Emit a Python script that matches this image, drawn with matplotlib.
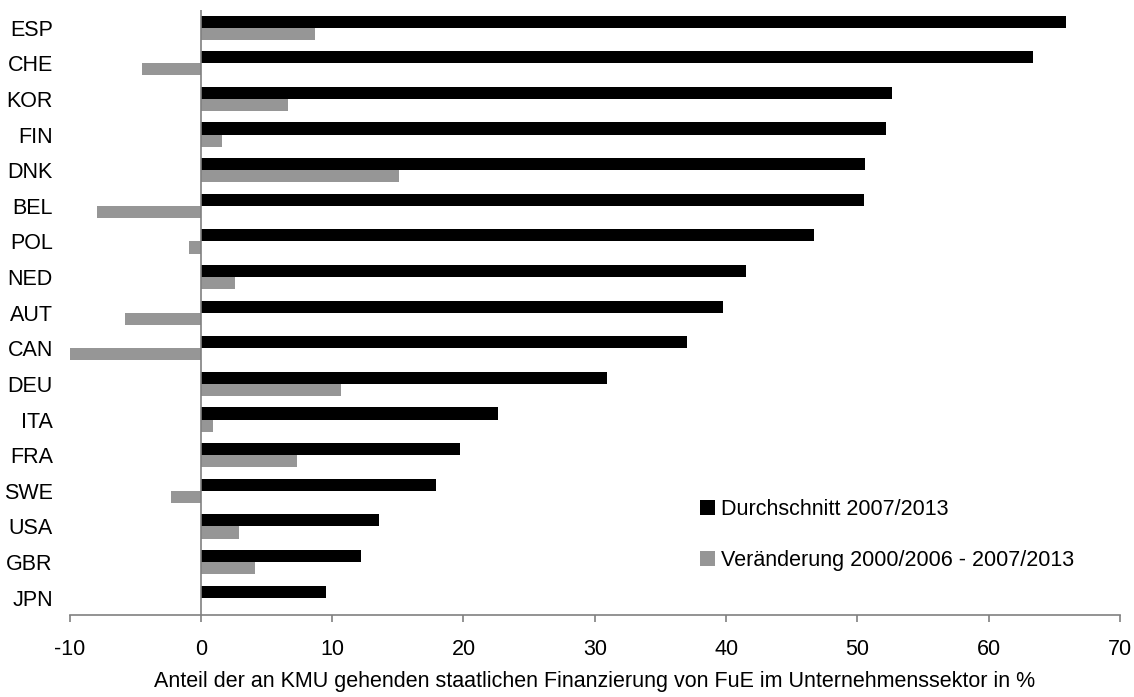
import numpy as np
from matplotlib import pyplot as plt

# Values (top to bottom)
countries = ['ESP', 'CHE', 'KOR', 'FIN', 'DNK', 'BEL', 'POL', 'NED', 'AUT',
             'CAN', 'DEU', 'ITA', 'FRA', 'SWE', 'USA', 'GBR', 'JPN']
average_0713 = [65.9, 63.4, 52.6, 52.2, 50.6, 50.5, 46.7, 41.5, 39.8,
                37.0, 30.9, 22.6, 19.7, 17.9, 13.6, 12.2, 9.5]
change_0006_0713 = [8.7, -4.5, 6.6, 1.6, 15.1, -7.9, -0.9, 2.6, -5.8,
                    -10.2, 10.7, 0.9, 7.3, -2.3, 2.9, 4.1, 0.0]
xticks = [-10, 0, 10, 20, 30, 40, 50, 60, 70]


def main():
    plt.rcParams['font.family'] = ['Liberation Sans', 'DejaVu Sans']
    fs = 15.5

    fig = plt.figure(figsize=(11.34, 6.97), dpi=100)
    ax = fig.add_axes([0.0613, 0.117, 0.9264, 0.8688])

    y = np.arange(len(countries))
    h = 0.34
    ax.barh(y - h / 2, average_0713, height=h, color='black',
            label='Durchschnitt 2007/2013')
    ax.barh(y + h / 2, change_0006_0713, height=h, color='#969696',
            label='Veränderung 2000/2006 - 2007/2013')

    ax.set_xlim(-10, 70)
    ax.set_ylim(len(countries) - 0.5, -0.5)
    ax.axvline(0, color='#808080', lw=1.2, zorder=3)

    for side in ['top', 'right', 'left']:
        ax.spines[side].set_visible(False)
    ax.spines['bottom'].set_color('#808080')
    ax.spines['bottom'].set_linewidth(1.2)

    ax.set_xticks(xticks)
    ax.set_xticklabels([str(t) for t in xticks])
    ax.tick_params(axis='x', direction='out', length=5, width=1.2,
                   color='#808080', pad=12, labelsize=fs)
    ax.set_yticks(y)
    ax.set_yticklabels(countries)
    ax.tick_params(axis='y', length=0, pad=12, labelsize=fs)

    ax.set_xlabel('Anteil der an KMU gehenden staatlichen Finanzierung von '
                  'FuE im Unternehmenssektor in %', fontsize=fs, labelpad=8)

    ax.legend(loc='center left', bbox_to_anchor=(0.6076, 0.2324),
              bbox_transform=fig.transFigure, frameon=False, fontsize=fs,
              borderpad=0, handlelength=0.7, handleheight=0.7,
              handletextpad=0.3, labelspacing=1.36)

    fig.savefig('out.png', dpi=100)


if __name__ == '__main__':
    main()
